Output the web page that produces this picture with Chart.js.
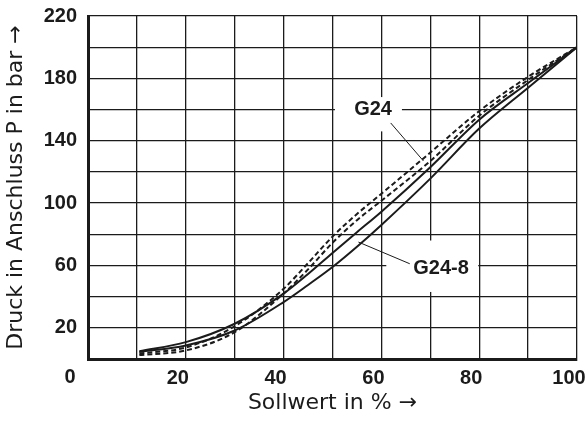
<!DOCTYPE html>
<html>
<head>
<meta charset="utf-8">
<script src="https://cdn.jsdelivr.net/npm/chart.js@4.4.1/dist/chart.umd.min.js"></script>
<style>
  html, body { margin: 0; padding: 0; background: #fff; }
  #wrap { width: 586px; height: 421px; }
</style>
</head>
<body>
<div id="wrap"><canvas id="c" width="586" height="421"></canvas></div>
<script>
// ---- data ----
const sollwert    = [10.5, 20, 30, 40, 45, 50, 55, 60, 70, 80, 90, 100];
const g24Solid    = [5.0, 10.8, 22.6, 41.9, 54.5, 68.0, 81.3, 94.5, 123.0, 153.5, 177.0, 200];
const g24_8Solid  = [4.5, 8.7, 18.3, 36.5, 47.5, 59.0, 72.0, 86.0, 115.7, 147.8, 174.0, 200];
const dashedUpper = [3.5, 7.4, 21.0, 45.0, 61.5, 78.5, 93.0, 106.0, 132.4, 159.0, 181.0, 200];
const dashedLower = [2.5, 5.5, 17.2, 42.0, 57.5, 74.5, 89.0, 101.5, 127.0, 156.0, 179.0, 200];
const xTickLabels = [20, 40, 60, 80, 100];
const yTickLabels = [20, 60, 100, 140, 180, 220];
const xTitle = 'Sollwert in % \u2192';
const yTitle = 'Druck in Anschluss P in bar \u2192';

// annotation labels (data coordinates)
const labelTexts = ['G24', 'G24-8'];
const labelAt = [[58.3, 160], [72.2, 57.8]];
const labelBoxes = [[50.5, 64.2, 146, 168], [61, 79.8, 43, 76]];
const leaders = [[[61.9, 151.4], [68.6, 127]], [[65.8, 61.1], [55.3, 75]]];

const toPts = (ys) => sollwert.map((x, i) => ({ x: x, y: ys[i] }));

const INK = '#1b1b1b';
const tickFont = { family: "'Liberation Sans', Arial, sans-serif", size: 20, weight: 'bold' };
const titleFont = { family: "'DejaVu Sans', sans-serif", size: 22, weight: 'normal' };

const annotPlugin = {
  id: 'annot',
  beforeDatasetsDraw(chart) {
    const { ctx, scales: { x, y } } = chart;
    ctx.save();
    ctx.fillStyle = '#ffffff';
    labelBoxes.forEach(b => {
      const x0 = x.getPixelForValue(b[0]), x1 = x.getPixelForValue(b[1]);
      const y0 = y.getPixelForValue(b[3]), y1 = y.getPixelForValue(b[2]);
      ctx.fillRect(x0, y0, x1 - x0, y1 - y0);
    });
    ctx.restore();
  },
  afterDatasetsDraw(chart) {
    const { ctx, scales: { x, y } } = chart;
    ctx.save();
    ctx.strokeStyle = INK;
    ctx.lineWidth = 1;
    leaders.forEach(l => {
      ctx.beginPath();
      ctx.moveTo(x.getPixelForValue(l[0][0]), y.getPixelForValue(l[0][1]));
      ctx.lineTo(x.getPixelForValue(l[1][0]), y.getPixelForValue(l[1][1]));
      ctx.stroke();
    });
    ctx.fillStyle = INK;
    ctx.font = `bold ${tickFont.size}px ${tickFont.family}`;
    ctx.textAlign = 'center';
    ctx.textBaseline = 'middle';
    labelTexts.forEach((t, i) => {
      ctx.fillText(t, x.getPixelForValue(labelAt[i][0]), y.getPixelForValue(labelAt[i][1]));
    });
    // origin label "0"
    ctx.fillText('0', x.getPixelForValue(0) - 18, y.getPixelForValue(0) + 18);
    ctx.restore();
  }
};

const lineDs = (label, ys, dash) => ({
  label: label,
  data: toPts(ys),
  borderColor: INK,
  borderWidth: 2,
  borderDash: dash,
  pointRadius: 0,
  fill: false,
  cubicInterpolationMode: 'monotone'
});

new Chart(document.getElementById('c'), {
  type: 'line',
  data: {
    datasets: [
      lineDs('G24 (gestrichelt oben)', dashedUpper, [5, 3]),
      lineDs('G24 (gestrichelt unten)', dashedLower, [5, 3]),
      lineDs('G24', g24Solid, []),
      lineDs('G24-8', g24_8Solid, [])
    ]
  },
  options: {
    responsive: false,
    animation: false,
    devicePixelRatio: 1,
    layout: { padding: { left: 0, right: 9, top: 16, bottom: 0 } },
    plugins: { legend: { display: false }, tooltip: { enabled: false } },
    scales: {
      x: {
        type: 'linear',
        min: 0, max: 100,
        ticks: {
          stepSize: 10,
          autoSkip: false,
          maxRotation: 0,
          labelOffset: -8,
          padding: 7,
          color: INK,
          font: tickFont,
          callback: (v) => xTickLabels.includes(v) ? String(v) : ''
        },
        grid: { color: INK, lineWidth: 1.3, drawTicks: false },
        border: { color: INK, width: 3 },
        title: { display: true, text: xTitle, color: INK, font: titleFont, padding: { top: 0, bottom: 5 } },
        afterFit: (s) => { s.paddingLeft = 0; s.paddingRight = 0; s.height = 62; }
      },
      y: {
        type: 'linear',
        min: 0, max: 220,
        ticks: {
          stepSize: 20,
          autoSkip: false,
          padding: 11,
          color: INK,
          font: tickFont,
          callback: (v) => yTickLabels.includes(v) ? String(v) : ''
        },
        grid: { color: INK, lineWidth: 1.3, drawTicks: false },
        border: { color: INK, width: 3 },
        title: { display: true, text: yTitle, color: INK, font: titleFont, padding: { top: 3, bottom: 0 } },
        afterFit: (s) => { s.paddingTop = 0; s.paddingBottom = 0; s.width = 88; }
      }
    }
  },
  plugins: [annotPlugin]
});
</script>
</body>
</html>
